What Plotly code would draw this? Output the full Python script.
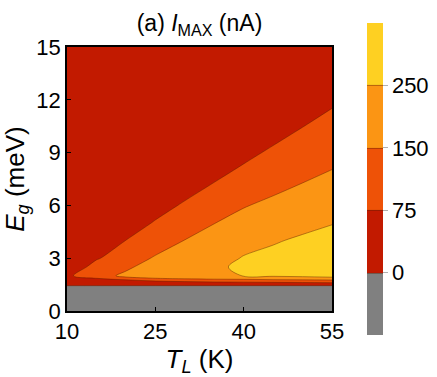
import numpy as np
import plotly.graph_objects as go

# grid of the map
T_L = [10, 15, 20, 25, 30, 35, 40, 45, 50, 55]
E_g = [0, 1.42, 1.44, 1.55, 1.7, 1.85, 2.0, 2.5, 3, 4, 5, 6, 8, 10, 12, 15]

# I_MAX (nA), one list per T_L column, values along E_g
I_10 = [-100, -100, 10, 25, 38, 50, 60, 26, 24, 22, 21, 20, 19, 18, 17, 16]
I_15 = [-100, -100, 15, 40, 55, 72, 128, 100, 69, 52, 44, 38, 32, 27, 23, 19]
I_20 = [-100, -100, 5, 10, 20, 137, 165, 140, 112, 75.4, 56.6, 46, 38, 31, 26, 21]
I_25 = [-100, -100, 8, 30, 74, 147, 200, 185, 160, 111, 78, 60.4, 44, 36, 30, 24]
I_30 = [-100, -100, 1.5, 4, 93, 162, 210, 220, 205, 152, 121, 79.6, 44.4, 34, 28, 22]
I_35 = [-100, -100, 1.5, 4, 111, 169, 200, 213, 200, 175, 149, 120, 51.3, 38, 32, 26]
I_40 = [-100, -100, 1.5, 4, 122, 168, 256, 290, 258, 205, 179, 146, 87.2, 19.3, 22, 22]
I_45 = [-100, -100, 1.5, 4, 137, 165, 271, 300, 285, 238, 200, 170, 110, 60, 42, 30]
I_50 = [-100, -100, 1.5, 37.5, 118, 199, 275, 310, 300, 270, 213, 190, 133, 86, 36, 25]
I_55 = [-100, -100, 1.5, 37.5, 131, 187.5, 321, 325, 310, 285, 246, 215, 151, 109, 64, 37.5]

# contour levels and colours
levels = [0, 75, 150, 250]
level_labels = ['0', '75', '150', '250']
colors = ['#808080', '#c21a00', '#ee5207', '#fb9514', '#fed022']

z = np.array([I_10, I_15, I_20, I_25, I_30, I_35, I_40, I_45, I_50, I_55]).T
# uneven levels -> band index so each band gets the same colorbar size
edges = [-100] + levels + [350]
z_idx = np.interp(z, edges, np.arange(len(edges)))

font = 'Liberation Sans, Arial, sans-serif'

fig = go.Figure()
fig.add_trace(go.Contour(
    x=T_L, y=E_g, z=z_idx,
    zmin=0, zmax=5,
    autocontour=False,
    contours=dict(start=1, end=4, size=1, coloring='fill', showlines=True),
    line=dict(color='rgba(90,30,0,0.55)', width=0.8),
    colorscale=[[i / 4, c] for i, c in enumerate(colors)],
    colorbar=dict(
        tickvals=[1, 2, 3, 4], ticktext=level_labels,
        thickness=16, len=312 / 264, lenmode='fraction',
        x=(367 - 67) / 265, xanchor='left', xpad=0,
        y=0.5, yanchor='middle', ypad=0,
        outlinewidth=0,
        ticks='outside', ticklen=5, tickcolor='#b0b0b0',
        tickfont=dict(family=font, size=22, color='black'),
    ),
    hoverinfo='skip',
))

fig.update_layout(
    width=437, height=377,
    margin=dict(l=67, r=105, t=47, b=66, autoexpand=False),
    paper_bgcolor='white', plot_bgcolor='white',
    font=dict(family=font, size=22, color='black'),
    title=dict(text='(a) <i>I</i><sub>MAX</sub> (nA)', x=0.5, xref='paper',
               xanchor='center', y=1 - 23 / 377, yref='container',
               yanchor='middle', font=dict(size=23)),
    showlegend=False,
)
fig.update_xaxes(
    range=[10, 55], tickvals=[10, 25, 40, 55],
    ticks='inside', ticklen=4, tickcolor='black',
    showline=True, linecolor='black', linewidth=1.5, mirror=True,
    showgrid=False, zeroline=False, automargin=False,
    title=dict(text='<i>T</i><sub><i>L</i></sub> (K)', standoff=14),
)
fig.update_yaxes(
    range=[0, 15], tickvals=[0, 3, 6, 9, 12, 15],
    ticks='inside', ticklen=4, tickcolor='black',
    showline=True, linecolor='black', linewidth=1.5, mirror=True,
    showgrid=False, zeroline=False, automargin=False,
    title=dict(text='<i>E</i><sub><i>g</i></sub> (meV)', standoff=6),
)

# page margin off so the figure fills the window
fig.write_html("out.html", config={'displayModeBar': False},
               post_script="document.body.style.margin='0';")
